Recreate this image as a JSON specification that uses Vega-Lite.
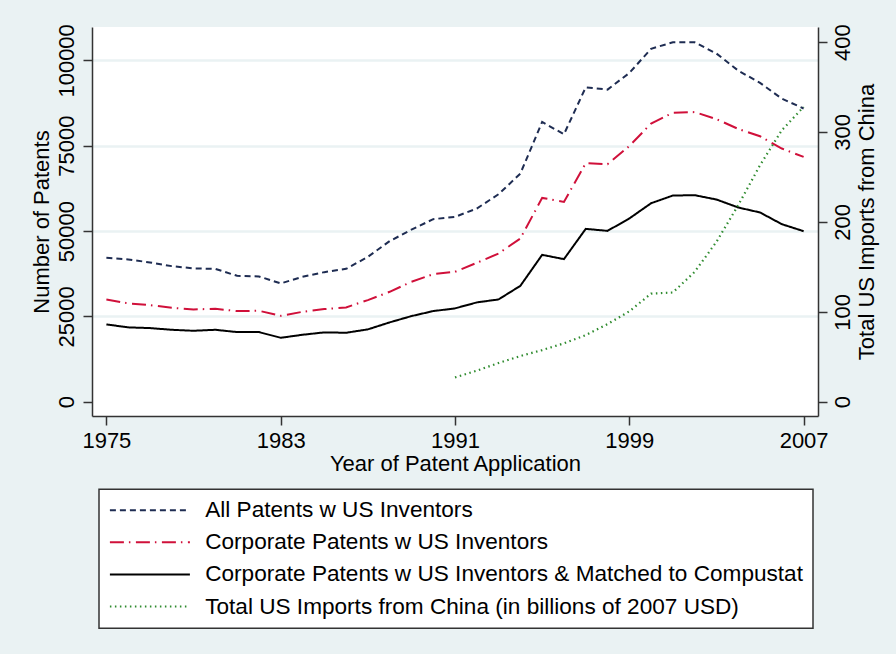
{
  "$schema": "https://vega.github.io/schema/vega-lite/v6.json",
  "width": 726,
  "height": 389,
  "autosize": "none",
  "padding": {"left": 92, "top": 27, "right": 78, "bottom": 238},
  "background": "#EAF2F3",
  "config": {
    "font": "Liberation Sans",
    "view": {"stroke": null, "fill": "white"},
    "axis": {
      "labelFont": "Liberation Sans",
      "titleFont": "Liberation Sans",
      "labelFontSize": 22,
      "titleFontSize": 22,
      "labelColor": "black",
      "titleColor": "black",
      "titleFontWeight": "normal",
      "domainColor": "#333333",
      "domainWidth": 1.5,
      "tickColor": "#333333",
      "tickWidth": 1.5,
      "tickSize": 9,
      "labelPadding": 5,
      "labelOverlap": false
    },
    "legend": {
      "orient": "none",
      "legendX": 7,
      "legendY": 462.3,
      "direction": "vertical",
      "strokeColor": "#333333",
      "strokeWidth": 1.5,
      "fillColor": "white",
      "padding": 9.6,
      "cornerRadius": 0,
      "labelFont": "Liberation Sans",
      "labelFontSize": 22.6,
      "labelColor": "black",
      "labelLimit": 0,
      "rowPadding": 9.1,
      "symbolType": "M-4,0H4",
      "symbolSize": 400,
      "symbolStrokeWidth": 2,
      "symbolFillColor": "transparent",
      "symbolOffset": 30,
      "labelOffset": 44
    }
  },
  "datasets": {
    "patents": [
      {"year": 1975, "series": "All Patents w US Inventors", "value": 42150},
      {"year": 1976, "series": "All Patents w US Inventors", "value": 41680},
      {"year": 1977, "series": "All Patents w US Inventors", "value": 40800},
      {"year": 1978, "series": "All Patents w US Inventors", "value": 39720},
      {"year": 1979, "series": "All Patents w US Inventors", "value": 39050},
      {"year": 1980, "series": "All Patents w US Inventors", "value": 38930},
      {"year": 1981, "series": "All Patents w US Inventors", "value": 36880},
      {"year": 1982, "series": "All Patents w US Inventors", "value": 36700},
      {"year": 1983, "series": "All Patents w US Inventors", "value": 34660},
      {"year": 1984, "series": "All Patents w US Inventors", "value": 36590},
      {"year": 1985, "series": "All Patents w US Inventors", "value": 37960},
      {"year": 1986, "series": "All Patents w US Inventors", "value": 38930},
      {"year": 1987, "series": "All Patents w US Inventors", "value": 42440},
      {"year": 1988, "series": "All Patents w US Inventors", "value": 47040},
      {"year": 1989, "series": "All Patents w US Inventors", "value": 50400},
      {"year": 1990, "series": "All Patents w US Inventors", "value": 53480},
      {"year": 1991, "series": "All Patents w US Inventors", "value": 54150},
      {"year": 1992, "series": "All Patents w US Inventors", "value": 56600},
      {"year": 1993, "series": "All Patents w US Inventors", "value": 60790},
      {"year": 1994, "series": "All Patents w US Inventors", "value": 66850},
      {"year": 1995, "series": "All Patents w US Inventors", "value": 81960},
      {"year": 1996, "series": "All Patents w US Inventors", "value": 78350},
      {"year": 1997, "series": "All Patents w US Inventors", "value": 92100},
      {"year": 1998, "series": "All Patents w US Inventors", "value": 91440},
      {"year": 1999, "series": "All Patents w US Inventors", "value": 96300},
      {"year": 2000, "series": "All Patents w US Inventors", "value": 103400},
      {"year": 2001, "series": "All Patents w US Inventors", "value": 105300},
      {"year": 2002, "series": "All Patents w US Inventors", "value": 105300},
      {"year": 2003, "series": "All Patents w US Inventors", "value": 102000},
      {"year": 2004, "series": "All Patents w US Inventors", "value": 97000},
      {"year": 2005, "series": "All Patents w US Inventors", "value": 93400},
      {"year": 2006, "series": "All Patents w US Inventors", "value": 88800},
      {"year": 2007, "series": "All Patents w US Inventors", "value": 85900},
      {"year": 1975, "series": "Corporate Patents w US Inventors", "value": 29970},
      {"year": 1976, "series": "Corporate Patents w US Inventors", "value": 28800},
      {"year": 1977, "series": "Corporate Patents w US Inventors", "value": 28300},
      {"year": 1978, "series": "Corporate Patents w US Inventors", "value": 27510},
      {"year": 1979, "series": "Corporate Patents w US Inventors", "value": 27050},
      {"year": 1980, "series": "Corporate Patents w US Inventors", "value": 27220},
      {"year": 1981, "series": "Corporate Patents w US Inventors", "value": 26550},
      {"year": 1982, "series": "Corporate Patents w US Inventors", "value": 26640},
      {"year": 1983, "series": "Corporate Patents w US Inventors", "value": 25170},
      {"year": 1984, "series": "Corporate Patents w US Inventors", "value": 26340},
      {"year": 1985, "series": "Corporate Patents w US Inventors", "value": 27130},
      {"year": 1986, "series": "Corporate Patents w US Inventors", "value": 27630},
      {"year": 1987, "series": "Corporate Patents w US Inventors", "value": 29770},
      {"year": 1988, "series": "Corporate Patents w US Inventors", "value": 32200},
      {"year": 1989, "series": "Corporate Patents w US Inventors", "value": 35120},
      {"year": 1990, "series": "Corporate Patents w US Inventors", "value": 37380},
      {"year": 1991, "series": "Corporate Patents w US Inventors", "value": 38050},
      {"year": 1992, "series": "Corporate Patents w US Inventors", "value": 40690},
      {"year": 1993, "series": "Corporate Patents w US Inventors", "value": 43430},
      {"year": 1994, "series": "Corporate Patents w US Inventors", "value": 47820},
      {"year": 1995, "series": "Corporate Patents w US Inventors", "value": 59710},
      {"year": 1996, "series": "Corporate Patents w US Inventors", "value": 58540},
      {"year": 1997, "series": "Corporate Patents w US Inventors", "value": 69870},
      {"year": 1998, "series": "Corporate Patents w US Inventors", "value": 69570},
      {"year": 1999, "series": "Corporate Patents w US Inventors", "value": 74900},
      {"year": 2000, "series": "Corporate Patents w US Inventors", "value": 81500},
      {"year": 2001, "series": "Corporate Patents w US Inventors", "value": 84650},
      {"year": 2002, "series": "Corporate Patents w US Inventors", "value": 84850},
      {"year": 2003, "series": "Corporate Patents w US Inventors", "value": 82800},
      {"year": 2004, "series": "Corporate Patents w US Inventors", "value": 79900},
      {"year": 2005, "series": "Corporate Patents w US Inventors", "value": 77770},
      {"year": 2006, "series": "Corporate Patents w US Inventors", "value": 74170},
      {"year": 2007, "series": "Corporate Patents w US Inventors", "value": 71710},
      {"year": 1975, "series": "Corporate Patents w US Inventors & Matched to Compustat", "value": 22650},
      {"year": 1976, "series": "Corporate Patents w US Inventors & Matched to Compustat", "value": 21780},
      {"year": 1977, "series": "Corporate Patents w US Inventors & Matched to Compustat", "value": 21570},
      {"year": 1978, "series": "Corporate Patents w US Inventors & Matched to Compustat", "value": 21070},
      {"year": 1979, "series": "Corporate Patents w US Inventors & Matched to Compustat", "value": 20780},
      {"year": 1980, "series": "Corporate Patents w US Inventors & Matched to Compustat", "value": 21070},
      {"year": 1981, "series": "Corporate Patents w US Inventors & Matched to Compustat", "value": 20400},
      {"year": 1982, "series": "Corporate Patents w US Inventors & Matched to Compustat", "value": 20400},
      {"year": 1983, "series": "Corporate Patents w US Inventors & Matched to Compustat", "value": 18730},
      {"year": 1984, "series": "Corporate Patents w US Inventors & Matched to Compustat", "value": 19610},
      {"year": 1985, "series": "Corporate Patents w US Inventors & Matched to Compustat", "value": 20310},
      {"year": 1986, "series": "Corporate Patents w US Inventors & Matched to Compustat", "value": 20200},
      {"year": 1987, "series": "Corporate Patents w US Inventors & Matched to Compustat", "value": 21190},
      {"year": 1988, "series": "Corporate Patents w US Inventors & Matched to Compustat", "value": 23240},
      {"year": 1989, "series": "Corporate Patents w US Inventors & Matched to Compustat", "value": 25080},
      {"year": 1990, "series": "Corporate Patents w US Inventors & Matched to Compustat", "value": 26550},
      {"year": 1991, "series": "Corporate Patents w US Inventors & Matched to Compustat", "value": 27340},
      {"year": 1992, "series": "Corporate Patents w US Inventors & Matched to Compustat", "value": 29090},
      {"year": 1993, "series": "Corporate Patents w US Inventors & Matched to Compustat", "value": 29970},
      {"year": 1994, "series": "Corporate Patents w US Inventors & Matched to Compustat", "value": 33950},
      {"year": 1995, "series": "Corporate Patents w US Inventors & Matched to Compustat", "value": 43030},
      {"year": 1996, "series": "Corporate Patents w US Inventors & Matched to Compustat", "value": 41770},
      {"year": 1997, "series": "Corporate Patents w US Inventors & Matched to Compustat", "value": 50640},
      {"year": 1998, "series": "Corporate Patents w US Inventors & Matched to Compustat", "value": 50050},
      {"year": 1999, "series": "Corporate Patents w US Inventors & Matched to Compustat", "value": 53680},
      {"year": 2000, "series": "Corporate Patents w US Inventors & Matched to Compustat", "value": 58150},
      {"year": 2001, "series": "Corporate Patents w US Inventors & Matched to Compustat", "value": 60410},
      {"year": 2002, "series": "Corporate Patents w US Inventors & Matched to Compustat", "value": 60500},
      {"year": 2003, "series": "Corporate Patents w US Inventors & Matched to Compustat", "value": 59240},
      {"year": 2004, "series": "Corporate Patents w US Inventors & Matched to Compustat", "value": 56900},
      {"year": 2005, "series": "Corporate Patents w US Inventors & Matched to Compustat", "value": 55440},
      {"year": 2006, "series": "Corporate Patents w US Inventors & Matched to Compustat", "value": 52010},
      {"year": 2007, "series": "Corporate Patents w US Inventors & Matched to Compustat", "value": 49960}
    ],
    "imports": [
      {"year": 1991, "series": "Total US Imports from China (in billions of 2007 USD)", "imports": 27},
      {"year": 1992, "series": "Total US Imports from China (in billions of 2007 USD)", "imports": 34.5},
      {"year": 1993, "series": "Total US Imports from China (in billions of 2007 USD)", "imports": 43},
      {"year": 1994, "series": "Total US Imports from China (in billions of 2007 USD)", "imports": 50.8},
      {"year": 1995, "series": "Total US Imports from China (in billions of 2007 USD)", "imports": 57.4},
      {"year": 1996, "series": "Total US Imports from China (in billions of 2007 USD)", "imports": 64.9},
      {"year": 1997, "series": "Total US Imports from China (in billions of 2007 USD)", "imports": 74.1},
      {"year": 1998, "series": "Total US Imports from China (in billions of 2007 USD)", "imports": 86.3},
      {"year": 1999, "series": "Total US Imports from China (in billions of 2007 USD)", "imports": 100.5},
      {"year": 2000, "series": "Total US Imports from China (in billions of 2007 USD)", "imports": 120.2},
      {"year": 2001, "series": "Total US Imports from China (in billions of 2007 USD)", "imports": 121.5},
      {"year": 2002, "series": "Total US Imports from China (in billions of 2007 USD)", "imports": 144.4},
      {"year": 2003, "series": "Total US Imports from China (in billions of 2007 USD)", "imports": 177.8},
      {"year": 2004, "series": "Total US Imports from China (in billions of 2007 USD)", "imports": 218.6},
      {"year": 2005, "series": "Total US Imports from China (in billions of 2007 USD)", "imports": 263},
      {"year": 2006, "series": "Total US Imports from China (in billions of 2007 USD)", "imports": 301.9},
      {"year": 2007, "series": "Total US Imports from China (in billions of 2007 USD)", "imports": 327.8}
    ]
  },
  "layer": [
    {
      "data": {"name": "patents"},
      "mark": {"type": "line", "strokeWidth": 2},
      "encoding": {
        "x": {
          "field": "year", "type": "quantitative",
          "scale": {"domain": [1974.34, 2007.66], "nice": false, "zero": false},
          "axis": {"values": [1975, 1983, 1991, 1999, 2007], "format": "d", "title": "Year of Patent Application", "grid": false, "titlePadding": 2}
        },
        "y": {
          "field": "value", "type": "quantitative",
          "scale": {"domain": [-4186, 109778], "nice": false, "zero": false},
          "axis": {
            "orient": "left",
            "values": [0, 25000, 50000, 75000, 100000],
            "format": "d",
            "title": "Number of Patents",
            "labelAngle": -90,
            "labelAlign": "center",
            "labelBaseline": "bottom",
            "titlePadding": 2,
            "grid": true,
            "gridColor": "#EAF2F3",
            "gridWidth": 2.5,
            "gridOpacity": {"condition": {"test": "datum.value === 0", "value": 0}, "value": 1}
          }
        },
        "color": {
          "field": "series", "type": "nominal",
          "scale": {
            "domain": ["All Patents w US Inventors", "Corporate Patents w US Inventors", "Corporate Patents w US Inventors & Matched to Compustat", "Total US Imports from China (in billions of 2007 USD)"],
            "range": ["#1e2c52", "#d0103a", "#000000", "#2e8b2e"]
          },
          "legend": {"title": null}
        },
        "strokeDash": {
          "field": "series", "type": "nominal",
          "scale": {
            "domain": ["All Patents w US Inventors", "Corporate Patents w US Inventors", "Corporate Patents w US Inventors & Matched to Compustat", "Total US Imports from China (in billions of 2007 USD)"],
            "range": [[6, 4], [14, 5, 1.5, 5.5], [1, 0], [1.5, 3.5]]
          },
          "legend": {"title": null}
        }
      }
    },
    {
      "data": {"name": "imports"},
      "mark": {"type": "line", "strokeWidth": 2.2},
      "encoding": {
        "x": {"field": "year", "type": "quantitative"},
        "y": {
          "field": "imports", "type": "quantitative",
          "scale": {"domain": [-15.9, 416.7], "nice": false, "zero": false},
          "axis": {
            "orient": "right",
            "values": [0, 100, 200, 300, 400],
            "title": "Total US Imports from China",
            "labelAngle": -90,
            "labelAlign": "center",
            "labelBaseline": "top",
            "titleAngle": 270,
            "titleAlign": "center",
            "titleAnchor": "middle",
            "titleBaseline": "top",
            "titlePadding": 3,
            "grid": false
          }
        },
        "color": {"field": "series", "type": "nominal", "legend": {"title": null}},
        "strokeDash": {"field": "series", "type": "nominal", "legend": {"title": null}}
      }
    }
  ],
  "resolve": {"scale": {"y": "independent"}}
}
